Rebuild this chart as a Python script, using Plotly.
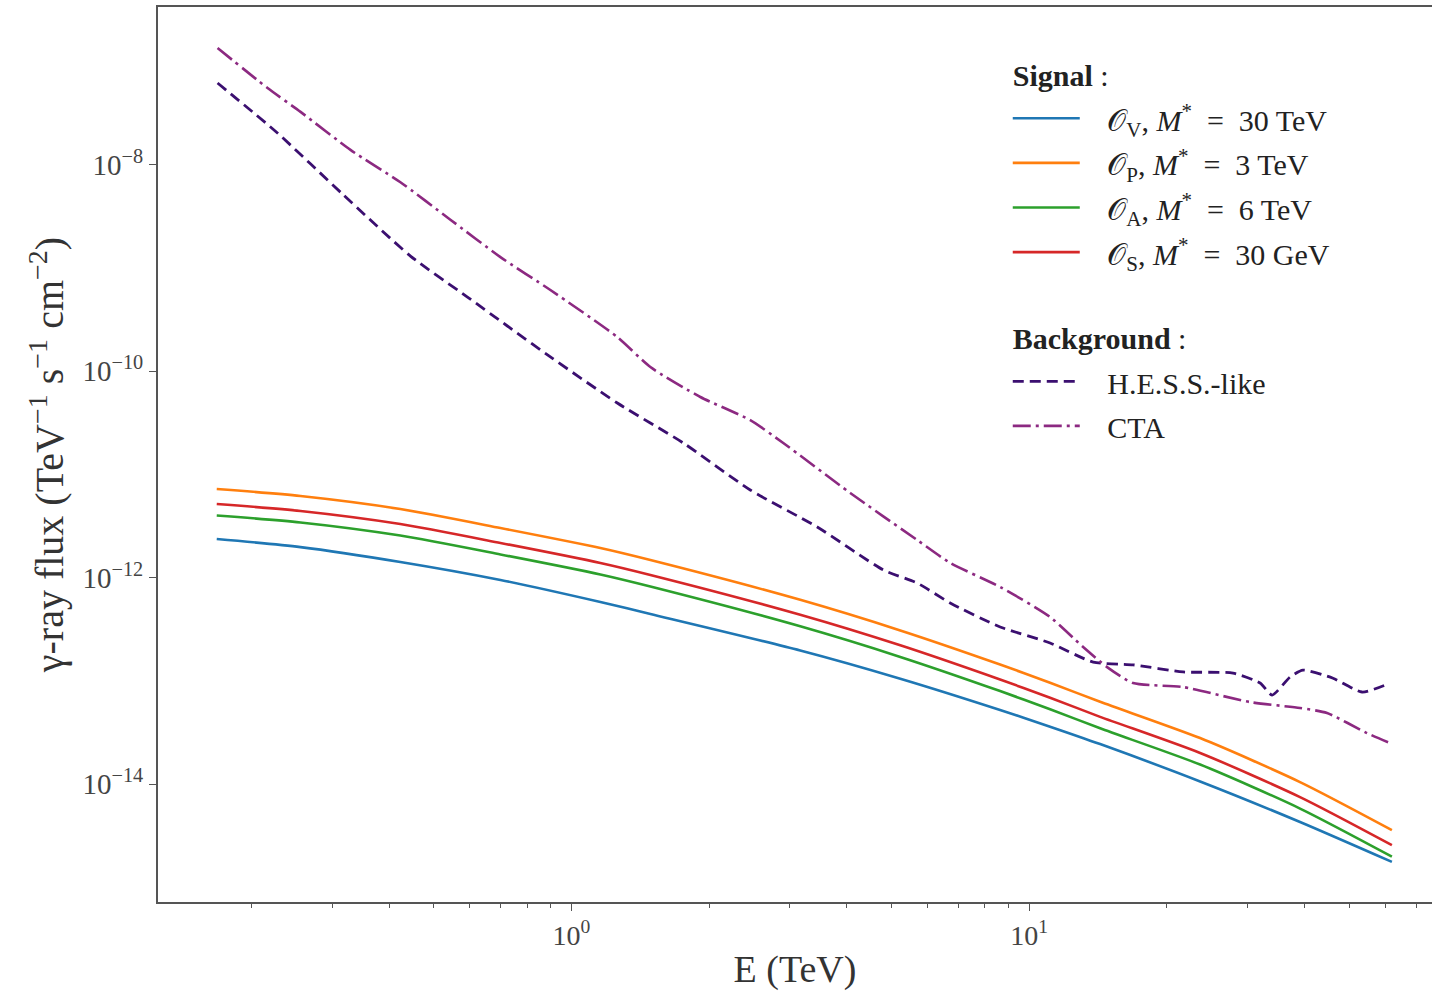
import plotly.graph_objects as go

# ---------------- data ----------------
E_signal = [0.168, 0.256, 0.423, 0.700, 1.157, 1.488, 3.162, 5.23, 8.64, 11.11, 14.29, 23.63, 39.06, 62.0]

flux_OV = [2.37e-12, 1.98e-12, 1.42e-12, 9.50e-13, 5.81e-13, 4.45e-13, 1.973e-13, 1.051e-13,
           5.23e-14, 3.60e-14, 2.44e-14, 1.060e-14, 4.29e-15, 1.76e-15]
flux_OP = [7.24e-12, 6.19e-12, 4.63e-12, 3.03e-12, 1.94e-12, 1.484e-12, 6.10e-13, 3.08e-13,
           1.44e-13, 9.60e-14, 6.27e-14, 2.79e-14, 1.046e-14, 3.58e-15]
flux_OA = [4.01e-12, 3.43e-12, 2.56e-12, 1.68e-12, 1.074e-12, 8.21e-13, 3.38e-13, 1.707e-13,
           7.97e-14, 5.31e-14, 3.47e-14, 1.546e-14, 5.79e-15, 1.98e-15]
flux_OS = [5.18e-12, 4.43e-12, 3.31e-12, 2.17e-12, 1.388e-12, 1.062e-12, 4.37e-13, 2.21e-13,
           1.03e-13, 6.87e-14, 4.48e-14, 2.00e-14, 7.48e-15, 2.56e-15]

E_hess = [0.1687, 0.2280, 0.3178, 0.4451, 0.5929, 0.7248, 0.8998, 1.260,
          1.756, 2.459, 3.444, 4.800, 5.693, 6.722, 8.644, 11.11, 13.80, 16.87, 21.69,
          27.89, 31.95, 33.94, 37.15, 39.65, 46.11, 53.36, 61.41]
flux_hess = [6.23e-8, 2.04e-8, 5.12e-9, 1.31e-9, 5.25e-10, 2.75e-10, 1.38e-10,
             4.93e-11, 2.02e-11, 7.08e-12, 3.10e-12, 1.19e-12, 8.87e-13, 5.69e-13, 3.33e-13,
             2.33e-13, 1.52e-13, 1.43e-13, 1.22e-13, 1.19e-13, 9.53e-14, 7.29e-14, 1.09e-13,
             1.27e-13, 1.06e-13, 7.80e-14, 9.53e-14]

E_cta = [0.1687, 0.2169, 0.2561, 0.3292, 0.4232, 0.5441, 0.6998, 0.8998, 1.260, 1.488, 1.913,
         2.459, 2.903, 4.066, 5.693, 6.722, 8.644, 11.11, 13.12, 14.80, 16.87, 21.69, 30.38,
         39.06, 44.74, 54.70, 61.41]
flux_cta = [1.36e-7, 5.57e-8, 3.27e-8, 1.40e-8, 6.80e-9, 2.95e-9, 1.28e-9, 6.14e-10, 2.15e-10,
            1.10e-10, 5.64e-11, 3.37e-11, 2.02e-11, 6.62e-12, 2.32e-12, 1.39e-12, 8.13e-13,
            4.16e-13, 2.13e-13, 1.36e-13, 9.53e-14, 8.71e-14, 6.23e-14, 5.46e-14, 4.88e-14,
            3.12e-14, 2.50e-14]

SP = "&nbsp;"
EQ = SP * 2 + "=" + SP * 2
LEG = '<span style="font-size:30px">{}</span>'
signal_names = [LEG.format(SP * 3 + "𝒪<sub>V</sub>," + SP + "<i>M</i><sup>*</sup>" + EQ + "30 TeV"),
                LEG.format(SP * 3 + "𝒪<sub>P</sub>," + SP + "<i>M</i><sup>*</sup>" + EQ + "3 TeV"),
                LEG.format(SP * 3 + "𝒪<sub>A</sub>," + SP + "<i>M</i><sup>*</sup>" + EQ + "6 TeV"),
                LEG.format(SP * 3 + "𝒪<sub>S</sub>," + SP + "<i>M</i><sup>*</sup>" + EQ + "30 GeV")]
signal_colors = ["#1f77b4", "#ff7f0e", "#2ca02c", "#d62728"]
background_names = [LEG.format(SP * 3 + "H.E.S.S.-like"), LEG.format(SP * 3 + "CTA")]
group_titles = [LEG.format("<b>Signal</b> :"), LEG.format("<b>Background</b> :")]

y_tickvals = [1e-14, 1e-12, 1e-10, 1e-8]
y_ticktext = ["10<sup>−14</sup>", "10<sup>−12</sup>", "10<sup>−10</sup>", "10<sup>−8</sup>"]
x_tickvals = [1, 10]
x_ticktext = ["10<sup>0</sup>", "10<sup>1</sup>"]
x_minor = [0.2, 0.3, 0.4, 0.5, 0.6, 0.7, 0.8, 0.9, 2, 3, 4, 5, 6, 7, 8, 9, 20, 30, 40, 50, 60, 70]

FONT = "Liberation Serif"

fig = go.Figure()
for name, flux, col in zip(signal_names, [flux_OV, flux_OP, flux_OA, flux_OS], signal_colors):
    fig.add_trace(go.Scatter(
        x=E_signal, y=flux, mode="lines", name=name,
        line=dict(color=col, width=2.6, shape="spline", smoothing=0.7),
        legendgroup="signal",
        legendgrouptitle=dict(text=group_titles[0], font=dict(size=32, family=FONT, color="#222")),
    ))

fig.add_trace(go.Scatter(
    x=E_hess, y=flux_hess, mode="lines", name=background_names[0],
    line=dict(color="#3b0f70", width=2.8, dash="11px,6px", shape="spline", smoothing=0.6),
    legendgroup="bkg",
    legendgrouptitle=dict(text=group_titles[1], font=dict(size=32, family=FONT, color="#222")),
))
fig.add_trace(go.Scatter(
    x=E_cta, y=flux_cta, mode="lines", name=background_names[1],
    line=dict(color="#8c2981", width=2.6, dash="18px,5px,3px,5px", shape="spline", smoothing=0.6),
    legendgroup="bkg",
))

fig.update_layout(
    width=1432, height=1001,
    margin=dict(l=158, r=0, t=7, b=99),
    plot_bgcolor="white", paper_bgcolor="white",
    font=dict(family=FONT, size=24, color="#333"),
    showlegend=True,
    legend=dict(
        x=0.667, y=0.956, xanchor="left", yanchor="top",
        bgcolor="rgba(255,255,255,0)", borderwidth=0,
        font=dict(size=32, family=FONT, color="#222"),
        itemwidth=67, tracegroupgap=40, groupclick="toggleitem",
    ),
    xaxis=dict(
        type="log", range=[-0.903, 1.880],
        showline=True, linecolor="#555", linewidth=2, mirror=True,
        ticks="outside", ticklen=7, tickwidth=1.2, tickcolor="#555",
        tickmode="array", tickvals=x_tickvals, ticktext=x_ticktext,
        tickfont=dict(size=28, family=FONT, color="#444"),
        minor=dict(ticks="outside", ticklen=4, tickwidth=1, tickcolor="#555",
                   tickmode="array", tickvals=x_minor, showgrid=False),
        showgrid=False, zeroline=False,
        title=dict(text="E (TeV)", font=dict(size=38, family=FONT, color="#333"), standoff=6),
    ),
    yaxis=dict(
        type="log", range=[-15.143, -6.469],
        showline=True, linecolor="#555", linewidth=2, mirror=False,
        ticks="outside", ticklen=7, tickwidth=1.2, tickcolor="#555",
        tickmode="array", tickvals=y_tickvals, ticktext=y_ticktext,
        tickfont=dict(size=29, family=FONT, color="#444"),
        showgrid=False, zeroline=False,
        title=dict(text="γ-ray flux (TeV<sup>−1</sup> s<sup>−1</sup> cm<sup>−2</sup>)",
                   font=dict(size=40, family=FONT, color="#333"), standoff=6),
    ),
)

fig.write_html("out.html")
